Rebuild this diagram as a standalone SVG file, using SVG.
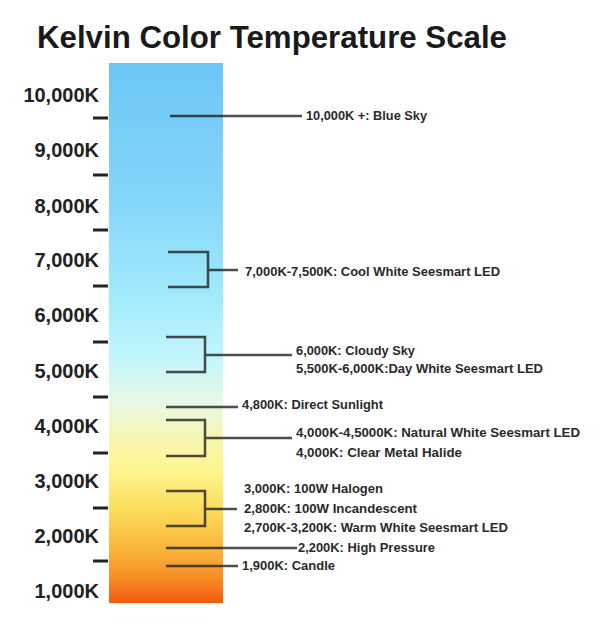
<svg xmlns="http://www.w3.org/2000/svg" width="600" height="623" viewBox="0 0 600 623">
<defs>
<linearGradient id="kelvin" x1="0" y1="0" x2="0" y2="1">
<stop offset="0" stop-color="#6bc5f6"/>
<stop offset="0.254" stop-color="#84d6f8"/>
<stop offset="0.439" stop-color="#a3ebfb"/>
<stop offset="0.55" stop-color="#c4f6fc"/>
<stop offset="0.624" stop-color="#e6f8e8"/>
<stop offset="0.698" stop-color="#f7f6b0"/>
<stop offset="0.754" stop-color="#fdf58f"/>
<stop offset="0.828" stop-color="#fcdc5a"/>
<stop offset="0.902" stop-color="#f9b53a"/>
<stop offset="0.957" stop-color="#f78a22"/>
<stop offset="1" stop-color="#f25a12"/>
</linearGradient>
<style>
.title{font-family:"Liberation Sans",Arial,sans-serif;font-weight:bold;font-size:32px;fill:#1a1a1a}
.scale{font-family:"Liberation Sans",Arial,sans-serif;font-weight:bold;font-size:20px;fill:#222;text-anchor:end}
.lbl{font-family:"Liberation Sans",Arial,sans-serif;font-weight:bold;font-size:13px;fill:#2a2a2a}
.tick{stroke:#222;stroke-width:3}
.conn{fill:none;stroke:#1c1c1c;stroke-opacity:0.78;stroke-width:2.5}
</style>
</defs>
<rect x="0" y="0" width="600" height="623" fill="#ffffff"/>
<text class="title" x="37" y="48" textLength="470" lengthAdjust="spacingAndGlyphs">Kelvin Color Temperature Scale</text>

<g id="bar">
<rect x="109" y="63" width="114" height="540" fill="url(#kelvin)"/>
</g>

<g id="scale-axis">
<text class="scale" x="99" y="102">10,000K</text>
<text class="scale" x="99" y="157">9,000K</text>
<text class="scale" x="99" y="213">8,000K</text>
<text class="scale" x="99" y="267">7,000K</text>
<text class="scale" x="99" y="322">6,000K</text>
<text class="scale" x="99" y="378">5,000K</text>
<text class="scale" x="99" y="433">4,000K</text>
<text class="scale" x="99" y="488">3,000K</text>
<text class="scale" x="99" y="543">2,000K</text>
<text class="scale" x="99" y="598">1,000K</text>
<path class="tick" d="M93 118H108M93 175H108M93 230H108M93 286H108M93 342H108M93 397H108M93 453H108M93 508H108M93 561H108"/>
</g>

<g id="connectors">
<path class="conn" d="M170 116H302"/>
<path class="conn" d="M168 252H208V287H168M208 270H238"/>
<path class="conn" d="M166 337H205V372H166M205 355H292"/>
<path class="conn" d="M166 407H238"/>
<path class="conn" d="M166 420H205V456H166M205 438H292"/>
<path class="conn" d="M166 491H205V526H166M205 509H237"/>
<path class="conn" d="M166 548H297"/>
<path class="conn" d="M166 566H238"/>
</g>

<g id="blue-sky"><text class="lbl" x="306" y="120" textLength="121" lengthAdjust="spacingAndGlyphs">10,000K +: Blue Sky</text></g>
<g id="cool-white"><text class="lbl" x="245" y="276" textLength="255" lengthAdjust="spacingAndGlyphs">7,000K-7,500K: Cool White Seesmart LED</text></g>
<g id="cloudy-day-white">
<text class="lbl" x="296" y="355" textLength="119" lengthAdjust="spacingAndGlyphs">6,000K: Cloudy Sky</text>
<text class="lbl" x="296" y="373" textLength="247" lengthAdjust="spacingAndGlyphs">5,500K-6,000K:Day White Seesmart LED</text>
</g>
<g id="direct-sunlight"><text class="lbl" x="242" y="409" textLength="141" lengthAdjust="spacingAndGlyphs">4,800K: Direct Sunlight</text></g>
<g id="natural-white">
<text class="lbl" x="296" y="437" textLength="284" lengthAdjust="spacingAndGlyphs">4,000K-4,5000K: Natural White Seesmart LED</text>
<text class="lbl" x="296" y="457" textLength="166" lengthAdjust="spacingAndGlyphs">4,000K: Clear Metal Halide</text>
</g>
<g id="warm-white">
<text class="lbl" x="244" y="493" textLength="139" lengthAdjust="spacingAndGlyphs">3,000K: 100W Halogen</text>
<text class="lbl" x="244" y="513" textLength="173" lengthAdjust="spacingAndGlyphs">2,800K: 100W Incandescent</text>
<text class="lbl" x="244" y="532" textLength="264" lengthAdjust="spacingAndGlyphs">2,700K-3,200K: Warm White Seesmart LED</text>
</g>
<g id="high-pressure"><text class="lbl" x="298" y="552" textLength="137" lengthAdjust="spacingAndGlyphs">2,200K: High Pressure</text></g>
<g id="candle"><text class="lbl" x="242" y="570" textLength="93" lengthAdjust="spacingAndGlyphs">1,900K: Candle</text></g>
</svg>
